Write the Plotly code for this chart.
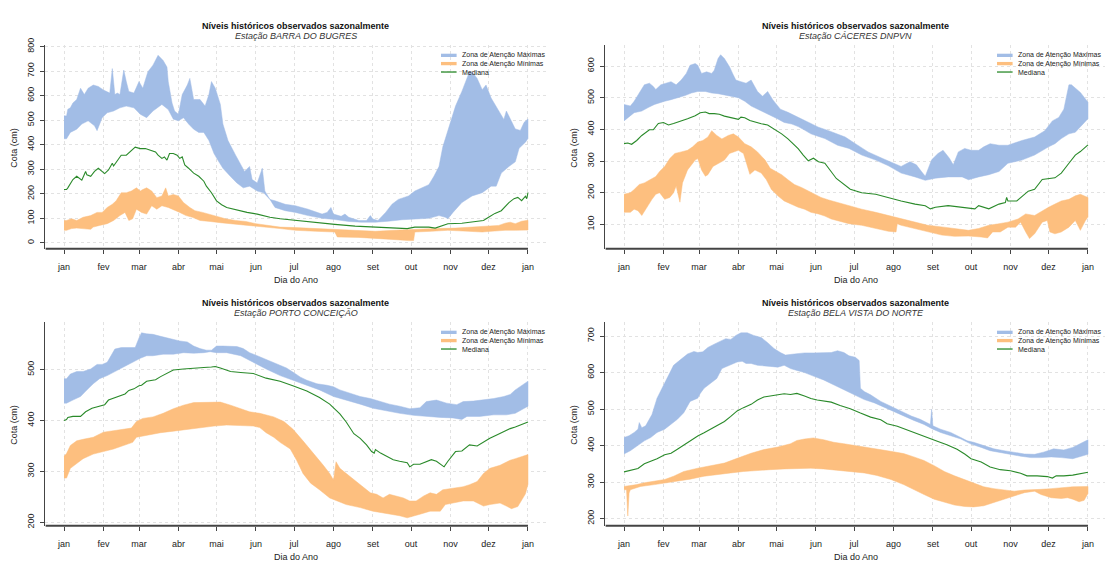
import plotly.graph_objects as go

W, H = 1105, 564
MONTH_DAYS = [1, 32, 60, 91, 121, 152, 182, 213, 244, 274, 305, 335, 366]
MONTH_LABELS = ['jan', 'fev', 'mar', 'abr', 'mai', 'jun', 'jul', 'ago', 'set', 'out', 'nov', 'dez', 'jan']
STATIONS = ['BARRA DO BUGRES', 'CÁCERES DNPVN', 'PORTO CONCEIÇÃO', 'BELA VISTA DO NORTE']
LEGEND_LABELS = ['Zona de Atenção Máximas', 'Zona de Atenção Mínimas', 'Mediana']

# ---------- Panel 1: BARRA DO BUGRES  (day, cm) ----------
P1_MAX_HI = [(1,518),(3,517),(4,544),(6,550),(8,570),(11,584),(14,630),(17,604),(20,630),(24,643),(28,637),(32,623),
             (37,610),(39,710),(41,604),(43,610),(45,604),(48,704),(50,657),(52,617),(56,610),(60,657),(63,630),(67,697),
             (71,724),(75,764),(79,743),(82,716),(83,657),(86,570),(88,537),(91,524),(94,604),(98,643),(100,670),(103,584),
             (108,584),(112,557),(115,604),(117,657),(120,630),(124,564),(126,484),(130,417),(136,357),(140,317),(143,291),
             (147,311),(149,258),(153,244),(157,304),(159,211),(163,177),(167,171),(171,164),(175,157),(183,151),(193,137),
             (204,117),(208,124),(211,144),(213,117),(219,108),(222,117),(225,104),(233,91),(239,91),(242,111),(244,97),
             (248,91),(254,124),(259,157),(264,177),(272,191),(277,211),(282,224),(288,237),(292,271),(296,311),(299,391),
             (303,457),(309,557),(314,617),(318,670),(320,697),(323,690),(326,670),(330,624),(333,643),(337,590),(343,537),
             (347,503),(349,537),(353,497),(356,464),(360,458),(363,491),(366,505)]
P1_MAX_LO = [(1,424),(3,424),(6,450),(11,463),(15,484),(20,497),(25,477),(27,457),(31,510),(35,530),(40,537),(45,550),
             (50,557),(56,550),(61,524),(66,510),(71,537),(78,564),(83,543),(87,504),(91,497),(95,510),(99,484),(103,463),
             (107,450),(111,450),(115,417),(119,364),(122,337),(126,304),(132,270),(137,244),(142,224),(147,231),(153,211),
             (158,204),(163,177),(167,144),(171,137),(175,131),(183,124),(193,111),(204,100),(214,95),(225,87),(235,84),
             (246,84),(256,88),(267,94),(277,98),(288,100),(296,111),(301,104),(303,98),(307,124),(314,164),(322,191),
             (330,204),(337,231),(341,231),(345,284),(351,311),(356,330),(359,385),(364,410),(366,425)]
P1_MIN_HI = [(1,91),(3,91),(7,98),(11,91),(16,104),(22,111),(27,124),(31,124),(35,144),(39,157),(42,171),(46,204),
             (50,204),(54,211),(58,224),(61,211),(63,217),(66,224),(70,211),(74,184),(78,191),(81,224),(83,191),(87,197),
             (91,191),(95,164),(100,144),(104,131),(110,124),(115,117),(120,111),(128,98),(136,91),(144,87),(152,78),
             (162,71),(171,64),(183,62),(199,58),(214,55),(230,51),(246,47),(261,51),(277,55),(293,58),(309,60),(324,64),
             (335,67),(343,71),(348,80),(352,84),(356,78),(361,88),(366,92)]
P1_MIN_LO = [(1,51),(3,51),(7,58),(11,60),(16,58),(22,55),(24,64),(29,71),(35,78),(40,91),(45,111),(49,124),(52,91),
             (55,98),(58,137),(62,124),(66,117),(70,151),(74,137),(78,151),(83,144),(87,137),(92,124),(97,111),(102,104),
             (108,91),(116,87),(124,82),(132,75),(140,71),(150,67),(163,62),(171,58),(183,51),(199,47),(214,44),(216,24),
             (233,22),(246,18),(259,14),(272,9),(276,9),(277,44),(290,47),(303,51),(319,47),(330,44),(337,47),(348,51),
             (356,51),(366,52)]
P1_MED = [(1,217),(3,217),(4,224),(6,244),(8,258),(11,271),(13,264),(15,255),(18,291),(19,277),(22,271),(25,291),
          (28,304),(31,291),(33,282),(36,297),(39,324),(40,313),(44,344),(46,357),(50,357),(54,377),(57,390),(61,384),
          (65,384),(69,377),(73,370),(75,357),(78,344),(80,350),(82,337),(84,364),(87,364),(90,357),(92,344),(94,350),
          (96,317),(99,304),(103,284),(107,271),(111,251),(113,231),(117,204),(121,171),(125,155),(129,144),(134,137),
          (140,131),(145,124),(153,117),(163,104),(171,98),(183,91),(199,82),(214,75),(230,68),(246,64),(261,62),
          (271,58),(277,64),(288,64),(293,60),(303,78),(314,80),(324,88),(331,91),(335,104),(340,120),(345,131),
          (351,164),(355,180),(358,185),(361,172),(364,190),(365,180),(366,205)]

# ---------- Panel 2: CÁCERES DNPVN ----------
P2_MAX_HI = [(1,479),(6,474),(9,489),(13,515),(17,541),(21,546),(24,536),(26,526),(30,541),(34,546),(38,551),(42,541),
             (46,556),(50,577),(53,603),(57,608),(59,603),(62,577),(66,582),(70,577),(72,587),(75,624),(77,636),(80,624),
             (84,598),(87,572),(89,556),(93,551),(97,546),(101,556),(104,536),(106,520),(110,505),(114,520),(118,494),
             (124,464),(130,454),(138,438),(146,422),(154,407),(162,396),(169,386),(175,376),(183,355),(193,329),(204,309),
             (214,293),(219,283),(226,298),(231,288),(235,267),(238,252),(243,304),(248,324),(252,334),(257,309),(260,288),
             (264,329),(269,340),(274,334),(280,334),(284,345),(289,355),(296,350),(303,350),(314,365),(324,376),(332,396),
             (338,427),(343,438),(347,464),(351,541),(353,541),(356,531),(360,517),(366,486)]
P2_MAX_LO = [(1,427),(6,443),(9,453),(15,458),(20,469),(25,479),(29,484),(33,489),(38,494),(44,500),(49,507),(54,515),
             (59,520),(65,520),(70,515),(75,513),(80,510),(85,505),(91,500),(96,489),(101,474),(106,464),(112,453),
             (117,443),(122,433),(127,422),(133,417),(138,409),(143,398),(148,386),(154,378),(159,371),(164,360),(169,350),
             (178,340),(188,319),(199,303),(209,285),(219,262),(230,250),(238,239),(246,246),(256,250),(267,250),(272,241),
             (280,250),(288,257),(296,267),(303,293),(314,303),(324,319),(335,345),(340,355),(345,371),(351,386),(356,391),
             (366,434)]
P2_MIN_HI = [(1,195),(6,200),(9,210),(13,226),(17,231),(23,246),(26,251),(29,267),(33,283),(37,308),(41,324),(46,329),
             (51,334),(55,345),(59,360),(63,365),(67,376),(70,396),(74,381),(78,370),(83,381),(87,386),(91,376),(96,355),
             (101,345),(106,329),(112,303),(116,277),(120,267),(125,257),(130,241),(135,226),(141,216),(146,205),(151,195),
             (156,185),(162,177),(169,169),(178,159),(188,148),(199,138),(209,128),(216,123),(230,107),(240,97),(251,92),
             (261,87),(272,81),(280,87),(288,97),(296,102),(303,107),(311,117),(317,133),(324,128),(330,143),(335,154),
             (340,164),(345,174),(351,179),(356,190),(360,195),(366,185)]
P2_MIN_LO = [(1,138),(6,138),(9,148),(12,143),(15,128),(19,154),(23,179),(26,195),(29,200),(33,179),(37,185),(40,200),
             (42,221),(45,170),(47,231),(51,272),(57,303),(59,308),(62,272),(65,252),(67,257),(71,283),(75,293),(80,303),
             (84,324),(87,329),(91,334),(95,324),(97,298),(100,258),(104,272),(109,262),(113,241),(117,210),(122,190),
             (127,174),(133,164),(138,154),(143,148),(148,138),(154,133),(159,126),(164,117),(169,112),(178,102),(188,97),
             (199,86),(209,78),(215,76),(216,102),(219,97),(230,86),(240,76),(251,66),(261,62),(272,63),(282,60),(287,57),
             (291,76),(297,76),(303,91),(309,91),(313,107),(317,76),(320,55),(324,70),(330,107),(334,112),(336,76),
             (340,70),(345,76),(351,91),(356,112),(360,81),(364,112),(366,123)]
P2_MED = [(1,355),(4,357),(7,353),(11,365),(15,381),(19,394),(21,399),(24,399),(28,419),(32,422),(36,414),(40,419),
          (44,424),(47,429),(51,434),(57,443),(61,453),(65,455),(68,450),(72,450),(76,448),(80,442),(85,437),(91,432),
          (93,439),(96,437),(100,428),(104,423),(109,418),(114,414),(120,400),(125,386),(130,370),(134,355),(138,339),
          (142,319),(146,301),(150,309),(154,298),(159,293),(164,267),(168,245),(179,211),(188,200),(199,195),(212,180),
          (219,174),(230,164),(238,159),(242,149),(246,154),(256,159),(267,154),(277,149),(280,159),(288,149),(296,164),
          (301,169),(302,185),(303,174),(310,174),(319,205),(324,211),(330,242),(340,247),(345,262),(351,293),(356,319),
          (360,330),(366,351)]

# ---------- Panel 3: PORTO CONCEIÇÃO ----------
P3_MAX_HI = [(1,482),(3,482),(6,491),(11,496),(16,496),(22,501),(27,510),(31,510),(35,514),(39,530),(41,540),(46,543),
             (53,543),(57,543),(60,562),(62,572),(66,570),(71,569),(77,565),(82,562),(87,559),(92,556),(98,554),(103,546),
             (108,541),(113,538),(117,538),(121,546),(126,546),(132,546),(137,545),(142,541),(147,533),(153,527),(160,520),
             (166,514),(171,508),(176,503),(181,495),(187,485),(192,479),(200,472),(208,469),(213,466),(218,460),(226,453),
             (234,447),(242,443),(250,437),(257,432),(265,428),(273,423),(281,425),(286,437),(294,440),(302,434),(310,431),
             (315,437),(323,438),(331,440),(339,443),(347,447),(352,451),(356,460),(366,477)]
P3_MAX_LO = [(1,434),(3,434),(8,440),(14,447),(19,460),(24,472),(29,482),(35,488),(40,495),(45,501),(50,508),(55,514),
             (61,522),(66,527),(71,527),(79,530),(87,530),(95,533),(103,532),(111,533),(116,535),(121,533),(129,533),
             (140,527),(150,514),(160,501),(171,488),(181,479),(192,469),(202,460),(213,447),(223,440),(234,432),(244,424),
             (255,419),(265,414),(276,410),(286,408),(297,406),(307,405),(314,402),(318,408),(328,408),(339,411),(349,411),
             (356,414),(366,428)]
P3_MIN_HI = [(1,330),(3,335),(6,351),(11,360),(16,363),(24,367),(32,377),(40,380),(48,383),(54,385),(58,398),(63,404),
             (71,407),(79,414),(87,423),(95,430),(103,435),(113,436),(124,436),(132,430),(140,423),(147,417),(155,414),
             (166,407),(174,398),(181,383),(189,360),(197,337),(205,312),(210,296),(213,283),(215,319),(218,306),(226,290),
             (234,274),(242,258),(247,255),(252,248),(257,255),(263,252),(268,248),(273,242),(278,242),(284,252),(289,258),
             (294,255),(299,264),(307,267),(315,270),(320,274),(326,280),(331,296),(336,306),(344,312),(352,322),(356,325),
             (366,333)]
P3_MIN_LO = [(1,287),(3,287),(6,306),(11,315),(16,325),(24,334),(32,339),(40,344),(48,351),(55,357),(58,367),(66,370),
             (77,376),(87,379),(98,383),(108,386),(119,389),(129,391),(140,390),(150,389),(155,386),(160,376),(166,367),
             (171,357),(179,344),(184,322),(189,296),(195,277),(202,264),(210,248),(216,242),(223,235),(234,229),(244,222),
             (255,218),(265,213),(271,209),(276,213),(281,216),(289,222),(297,222),(301,235),(307,238),(315,242),(323,242),
             (331,232),(336,235),(344,238),(349,232),(353,227),(358,231),(364,256),(366,275)]
P3_MED = [(1,400),(3,402),(4,406),(8,408),(14,408),(18,417),(23,424),(28,427),(33,431),(36,440),(40,444),(45,449),
          (49,452),(52,459),(56,462),(60,468),(62,469),(66,477),(73,480),(77,486),(82,492),(87,499),(95,501),(103,503),
          (111,504),(117,505),(120,506),(124,503),(132,496),(140,494),(150,492),(160,483),(171,477),(181,468),(192,458),
          (202,445),(210,432),(218,413),(223,397),(229,374),(234,365),(239,352),(243,339),(245,336),(246,343),(250,336),
          (255,330),(260,323),(265,320),(271,317),(273,309),(276,314),(281,314),(286,319),(290,323),(294,320),(297,314),
          (300,309),(303,320),(309,339),(314,340),(320,352),(326,350),(331,358),(336,365),(341,371),(347,378),(352,384),
          (356,387),(366,397)]

# ---------- Panel 4: BELA VISTA DO NORTE ----------
P4_MAX_HI = [(1,422),(5,427),(9,436),(12,445),(13,463),(15,449),(18,454),(23,485),(27,530),(31,557),(35,588),(40,620),
             (46,637),(51,651),(56,658),(59,655),(63,657),(67,669),(72,678),(77,687),(81,693),(85,691),(89,702),(93,709),
             (98,709),(103,702),(109,696),(114,682),(119,666),(124,655),(128,648),(135,651),(143,654),(150,654),(158,655),
             (164,655),(169,660),(174,655),(178,646),(183,642),(186,633),(187,557),(190,548),(195,539),(203,521),(211,508),
             (219,494),(227,481),(234,472),(240,463),(242,458),(243,499),(244,454),(250,445),(258,436),(266,422),(271,413),
             (276,409),(284,400),(292,391),(300,386),(308,382),(316,377),(324,376),(331,382),(339,391),(347,388),(354,395),
             (366,416)]
P4_MAX_LO = [(1,377),(6,386),(12,400),(17,413),(22,422),(27,436),(33,445),(38,458),(43,472),(48,490),(53,521),(59,530),
             (61,543),(64,557),(69,570),(74,584),(78,611),(84,620),(90,629),(94,631),(97,625),(101,625),(106,620),(111,618),
             (116,617),(122,615),(127,620),(132,611),(137,606),(143,600),(151,589),(158,580),(166,566),(174,553),(182,539),
             (190,526),(198,517),(206,503),(213,494),(221,481),(229,469),(237,458),(244,445),(250,436),(258,427),(266,418),
             (274,404),(282,395),(289,386),(297,379),(305,376),(313,371),(321,367),(329,367),(337,369),(345,367),(354,364),
             (366,376)]
P4_MIN_HI = [(1,288),(6,290),(11,293),(17,298),(25,302),(33,307),(40,316),(48,329),(59,338),(69,345),(80,352),(90,365),
             (101,379),(111,389),(122,396),(132,405),(137,414),(143,418),(150,421),(158,416),(166,409),(174,405),(182,400),
             (190,396),(198,392),(206,387),(213,383),(221,378),(229,369),(237,359),(245,345),(253,329),(261,317),(269,307),
             (276,298),(284,287),(292,282),(300,278),(308,275),(316,278),(324,278),(329,280),(337,282),(345,285),(354,287),
             (366,288)]
P4_MIN_LO = [(1,279),(3,279),(4,207),(5,270),(6,279),(14,288),(25,293),(33,298),(43,302),(53,308),(64,316),(74,320),
             (85,325),(95,329),(106,332),(116,334),(127,336),(137,338),(148,338),(158,336),(169,332),(179,329),(190,325),
             (200,318),(211,307),(221,293),(229,280),(237,266),(245,253),(253,244),(261,237),(269,233),(276,232),(284,235),
             (292,244),(300,255),(308,262),(316,271),(324,275),(329,266),(337,257),(345,255),(350,257),(354,253),(359,246),
             (363,250),(366,269)]
P4_MED = [(1,328),(6,332),(12,337),(17,350),(22,357),(27,364),(33,375),(38,379),(43,390),(48,402),(53,414),(59,426),
          (64,435),(69,444),(74,453),(80,466),(85,480),(90,495),(95,504),(101,513),(106,525),(111,533),(116,536),(122,540),
          (127,542),(132,540),(137,543),(143,536),(148,529),(153,525),(158,522),(164,519),(171,510),(179,501),(187,489),
          (195,478),(203,471),(208,460),(216,453),(224,442),(232,431),(240,420),(248,411),(255,402),(263,390),(269,377),
          (274,364),(282,355),(289,341),(297,334),(305,331),(313,324),(318,317),(326,317),(334,315),(338,311),(341,317),
          (347,317),(354,319),(366,327)]

SERIES = [
    (P1_MAX_HI, P1_MAX_LO, P1_MIN_HI, P1_MIN_LO, P1_MED),
    (P2_MAX_HI, P2_MAX_LO, P2_MIN_HI, P2_MIN_LO, P2_MED),
    (P3_MAX_HI, P3_MAX_LO, P3_MIN_HI, P3_MIN_LO, P3_MED),
    (P4_MAX_HI, P4_MAX_LO, P4_MIN_HI, P4_MIN_LO, P4_MED),
]
Y_TICKS = [list(range(0, 801, 100)), list(range(100, 601, 100)), list(range(200, 501, 100)), list(range(200, 701, 100))]

# ---------- layout geometry (pixels) ----------
PX_PER_DAY = 1.2712
GEOM = [
    dict(x0=45.4, x1=546.6, y0=38.0, y1=245.5, yr=(-24, 805), lg=0.0),
    dict(x0=605.4, x1=1105.0, y0=38.0, y1=245.5, yr=(23, 666), lg=-4.0),
    dict(x0=45.4, x1=546.6, y0=320.5, y1=528.0, yr=(193.5, 592.7), lg=0.0),
    dict(x0=605.4, x1=1105.0, y0=320.5, y1=528.0, yr=(180.4, 738), lg=-4.0),
]

BLUE = 'rgb(162,189,230)'
ORANGE = 'rgb(253,191,127)'
GREEN = '#2a8a2a'
GRID = '#e2e2e2'
FONT = 'Liberation Sans, Arial, Helvetica, sans-serif'

fig = go.Figure()
layout = dict(width=W, height=H, margin=dict(l=0, r=0, t=0, b=0), autosize=False,
              paper_bgcolor='white', plot_bgcolor='white', showlegend=False,
              font=dict(family=FONT, size=9, color='#222'))
annotations, shapes = [], []


def band(hi, lo):
    xs = [d for d, _ in hi] + [d for d, _ in reversed(lo)]
    ys = [v for _, v in hi] + [v for _, v in reversed(lo)]
    return xs, ys


for i, (g, ser, yt, st) in enumerate(zip(GEOM, SERIES, Y_TICKS, STATIONS)):
    k = '' if i == 0 else str(i + 1)
    xa, ya = 'x' + k, 'y' + k
    max_hi, max_lo, min_hi, min_lo, med = ser
    for (hi, lo, col) in [(max_hi, max_lo, BLUE), (min_hi, min_lo, ORANGE)]:
        xs, ys = band(hi, lo)
        fig.add_trace(go.Scatter(x=xs, y=ys, fill='toself', fillcolor=col, mode='lines',
                                 line=dict(width=0.5, color=col), hoverinfo='skip',
                                 xaxis=xa, yaxis=ya))
    fig.add_trace(go.Scatter(x=[d for d, _ in med], y=[v for _, v in med], mode='lines',
                             line=dict(color=GREEN, width=1.1), xaxis=xa, yaxis=ya))

    xmin = 1 - (64 - 45.4) / PX_PER_DAY
    xmax = xmin + (g['x1'] - g['x0']) / PX_PER_DAY
    layout['xaxis' + k] = dict(
        domain=[g['x0'] / W, g['x1'] / W], range=[xmin, xmax], anchor=ya,
        tickvals=MONTH_DAYS, ticktext=MONTH_LABELS, ticks='outside', ticklen=4,
        tickcolor='#444', tickwidth=1, showline=False, zeroline=False,
        showgrid=True, gridcolor=GRID, griddash='dot', gridwidth=1,
        tickfont=dict(size=9, color='#222'), ticklabelstandoff=5, fixedrange=True)
    layout['yaxis' + k] = dict(
        domain=[1 - g['y1'] / H, 1 - g['y0'] / H], range=list(g['yr']), anchor=xa,
        tickvals=yt, ticks='outside', ticklen=4, tickcolor='#444', tickwidth=1,
        tickangle=-90, showline=True, linecolor='#444', linewidth=1, zeroline=False,
        showgrid=True, gridcolor=GRID, griddash='dot', gridwidth=1,
        tickfont=dict(size=9, color='#222'), ticklabelstandoff=3, fixedrange=True)
    shapes.append(dict(type='line', xref=xa, yref=ya + ' domain', x0=xmin, x1=366, y0=0, y1=0,
                       line=dict(color='#444', width=2)))

    cx = g['x0'] + (14.6 * 2 + 365) * PX_PER_DAY / 2
    top = g['y0']
    annotations.append(dict(x=cx / W, y=1 - (top - 20) / H, xref='paper', yref='paper',
                            text='<b>Níveis históricos observados sazonalmente</b>', showarrow=False,
                            xanchor='center', yanchor='middle', font=dict(size=9, color='#111')))
    annotations.append(dict(x=cx / W, y=1 - (top - 9) / H, xref='paper', yref='paper',
                            text='<i>Estação ' + st + '</i>', showarrow=False,
                            xanchor='center', yanchor='middle', font=dict(size=9, color='#333')))
    annotations.append(dict(x=cx / W, y=1 - (g['y1'] + 32.2) / H, xref='paper', yref='paper',
                            text='Dia do Ano', showarrow=False, xanchor='center', yanchor='middle',
                            font=dict(size=9, color='#222')))
    annotations.append(dict(x=(g['x0'] - 31.5) / W, y=1 - ((g['y0'] + g['y1']) / 2 + 1) / H,
                            xref='paper', yref='paper', text='Cota (cm)', textangle=-90, showarrow=False,
                            xanchor='center', yanchor='middle', font=dict(size=9, color='#222')))
    lx0 = g['x0'] + 395.6 + g['lg']
    rows = [top + 10.3, top + 18.7, top + 27.3]
    for lab, col, wdt, ry in zip(LEGEND_LABELS, [BLUE, ORANGE, GREEN], [3.3, 3.3, 1.3], rows):
        shapes.append(dict(type='line', xref='paper', yref='paper', x0=lx0 / W, x1=(lx0 + 15.6) / W,
                           y0=1 - ry / H, y1=1 - ry / H, line=dict(color=col, width=wdt)))
        annotations.append(dict(x=(lx0 + 19.0) / W, y=1 - ry / H, xref='paper', yref='paper', text=lab,
                                showarrow=False, xanchor='left', yanchor='middle',
                                font=dict(size=7.0, color='#222')))

layout['annotations'] = annotations
layout['shapes'] = shapes
fig.update_layout(**layout)
fig.write_html('out.html')
